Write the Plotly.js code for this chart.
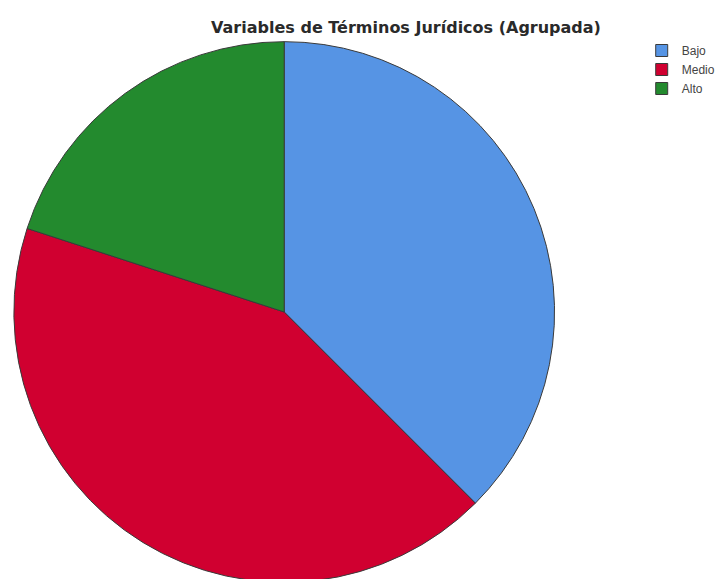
<!DOCTYPE html>
<html><head><meta charset="utf-8">
<script src="https://cdn.plot.ly/plotly-3.0.1.min.js"></script>
<style>html,body{margin:0;padding:0;overflow:hidden;background:#fff}</style>
</head><body><div id="chart"></div>
<script>
const categories = ["Bajo", "Medio", "Alto"];
const counts = [15, 17, 8];
const colors = ["#5694E4", "#D00030", "#238A2E"];

const W = 721, H = 600;
const cx = 287, cy = 312, r = 273;
const trace = {
  type: "pie",
  labels: categories,
  values: counts,
  sort: false,
  direction: "clockwise",
  rotation: 0,
  textinfo: "none",
  hoverinfo: "label+value+percent",
  marker: {colors: colors, line: {color: "#3a3a3a", width: 1}},
  domain: {x: [(cx - r) / W, (cx + r) / W], y: [(H - cy - r) / H, (H - cy + r) / H]}
};
const layout = {
  width: W, height: H,
  margin: {l: 0, r: 0, t: 0, b: 0},
  paper_bgcolor: "#fff",
  title: {text: "Variables de Términos Jurídicos (Agrupada)", x: 406 / W, xanchor: "center", y: 1 - 27 / H, yanchor: "middle",
          font: {family: "DejaVu Sans, Verdana, sans-serif", size: 16, color: "#2a2a2a", weight: "bold"}},
  showlegend: true,
  legend: {x: 648 / W, xanchor: "left", y: 1 - 36 / H, yanchor: "top",
           font: {family: "Liberation Sans, Arial, sans-serif", size: 12, color: "#444"},
           itemwidth: 30, tracegroupgap: 0, bgcolor: "rgba(0,0,0,0)"}
};
Plotly.newPlot("chart", [trace], layout, {displayModeBar: false, staticPlot: true});
</script></body></html>
